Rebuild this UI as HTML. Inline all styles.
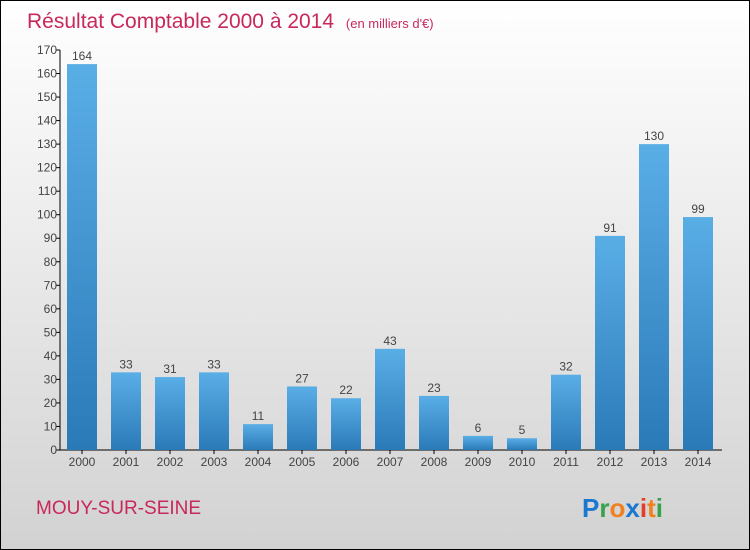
<!DOCTYPE html>
<html><head><meta charset="utf-8"><style>
body{margin:0;width:750px;height:550px;overflow:hidden}
svg{display:block;font-family:"Liberation Sans",sans-serif}
</style></head><body>
<svg id="c" width="750" height="550">
<defs>
<linearGradient id="bg" x1="0" y1="0" x2="0" y2="1"><stop offset="0" stop-color="#ffffff"/><stop offset="1" stop-color="#d2d2d2"/></linearGradient>
<linearGradient id="bar" x1="0" y1="0" x2="0" y2="1"><stop offset="0" stop-color="#5aaee6"/><stop offset="1" stop-color="#2a7ab8"/></linearGradient>
</defs>
<rect x="0.5" y="0.5" width="749" height="549" fill="url(#bg)" stroke="#000"/>
<text x="27" y="28" font-size="21" fill="#c8285a">Résultat Comptable 2000 à 2014 <tspan font-size="13" dx="6">(en milliers d'€)</tspan></text>
<text x="36" y="514" font-size="19" fill="#c8285a">MOUY-SUR-SEINE</text>
<g font-size="26" font-weight="bold" font-family="'Liberation Sans',sans-serif">
<text x="582" y="517"><tspan fill="#1a78d0">P</tspan><tspan fill="#3aa04a">r</tspan><tspan fill="#f08020">o</tspan><tspan fill="#1a78d0">x</tspan><tspan fill="#e0402a">i</tspan><tspan fill="#f08020">t</tspan><tspan fill="#3aa04a">i</tspan></text>
</g>
<g id="axes"></g><g id="bars"></g>
</svg>
<script>
const years=["2000","2001","2002","2003","2004","2005","2006","2007","2008","2009","2010","2011","2012","2013","2014"];
const values=[164,33,31,33,11,27,22,43,23,6,5,32,91,130,99];
const yTicks=[0,10,20,30,40,50,60,70,80,90,100,110,120,130,140,150,160,170];
const NS="http://www.w3.org/2000/svg";
const y0=450,yTop=50,yMax=170,x0=60,step=44,bw=30;
function ys(v){return y0-(v/yMax)*(y0-yTop);}
function xs(i){return 82+i*step;}
function mk(t,a,p){const e=document.createElementNS(NS,t);for(const k in a)e.setAttribute(k,a[k]);p.appendChild(e);return e;}
const ax=document.getElementById('axes'),bg=document.getElementById('bars');
const yl=mk('line',{x1:x0,y1:yTop,x2:x0,y2:y0,stroke:'#000'},ax);


const xl=mk('line',{x1:x0,y1:y0,x2:722,y2:y0,stroke:'#000'},ax);


yTicks.forEach(v=>{
  const y=ys(v);
  mk('line',{x1:x0-4,y1:y,x2:x0,y2:y,stroke:'#000'},ax);
  const t=mk('text',{x:x0-3,y:y+4,'text-anchor':'end','font-size':12,fill:'#444'},ax);
  t.textContent=v;
  
  
});
years.forEach((yr,i)=>{
  const cx=xs(i),v=values[i],top=ys(v);
  const r=mk('rect',{x:cx-bw/2,y:top,width:bw,height:y0-top,fill:'url(#bar)'},bg);
  
  
  const l=mk('text',{x:cx,y:top-4,'text-anchor':'middle','font-size':12,fill:'#444'},bg);
  l.textContent=v;
  
  
  mk('line',{x1:cx,y1:y0,x2:cx,y2:y0+4,stroke:'#000'},ax);
  const xt=mk('text',{x:cx,y:y0+16,'text-anchor':'middle','font-size':12,fill:'#444'},ax);
  xt.textContent=yr;
  
  
});
</script>
</body></html>
